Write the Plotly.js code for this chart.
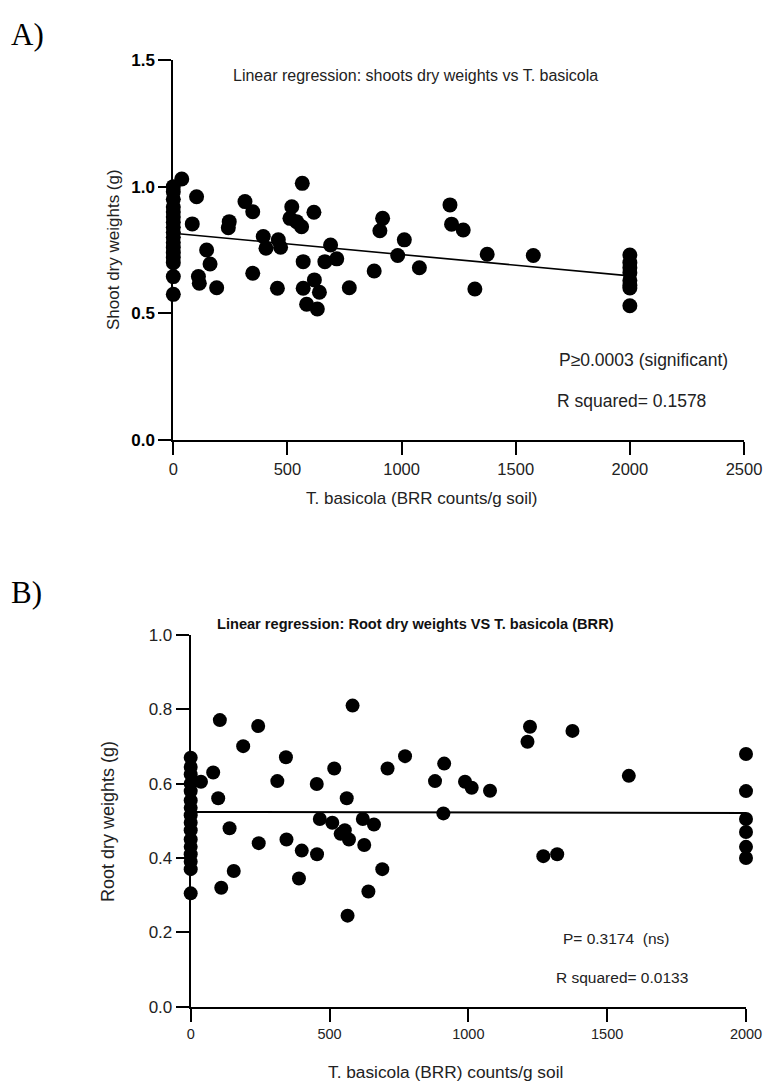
<!DOCTYPE html>
<html>
<head>
<meta charset="utf-8">
<script src="https://cdn.plot.ly/plotly-3.0.1.min.js"></script>
<style>html,body{margin:0;padding:0;background:#fff;}#chart{width:770px;height:1088px;}</style>
</head>
<body>
<div id="chart"></div>
<script>
// ---------- Panel A data: shoot dry weights vs T. basicola ----------
const shootX = [0,0,0,0,0,0,0,0,0,0,0,0,0,0,0,0,0,
  37,102,83,146,161,110,114,190,245,241,314,348,348,394,406,460,470,456,
  519,511,540,562,565,616,569,569,584,618,640,631,664,689,716,771,880,917,905,
  1012,983,1078,1212,1219,1270,1321,1375,1577,
  2000,2000,2000,2000,2000,2000,2000,2000];
const shootY = [1.00,0.98,0.95,0.92,0.90,0.88,0.86,0.84,0.82,0.80,0.78,0.76,0.74,0.72,0.70,0.645,0.575,
  1.03,0.96,0.853,0.75,0.695,0.645,0.619,0.601,0.862,0.838,0.941,0.901,0.658,0.803,0.757,0.79,0.761,0.599,
  0.921,0.875,0.862,0.842,1.013,0.899,0.704,0.599,0.536,0.632,0.583,0.517,0.704,0.77,0.715,0.601,0.667,0.875,0.826,
  0.79,0.728,0.68,0.928,0.852,0.829,0.596,0.733,0.728,
  0.73,0.70,0.68,0.66,0.63,0.61,0.60,0.53];
const fitAx = [0, 2000];
const fitAy = [0.816, 0.648];
const xTicksA = [0, 500, 1000, 1500, 2000, 2500];
const yTicksA = [0.0, 0.5, 1.0, 1.5];

// ---------- Panel B data: root dry weights vs T. basicola ----------
const rootX = [0,0,0,0,0,0,0,0,0,0,0,0,0,0,0,0,
  37,81,99,105,189,243,343,312,454,517,562,583,709,772,880,913,910,988,1012,1078,
  1213,1222,1375,1578,1270,1320,
  110,140,155,245,345,390,400,455,465,510,540,555,565,570,620,625,640,660,690,
  2000,2000,2000,2000,2000,2000];
const rootY = [0.67,0.645,0.625,0.60,0.58,0.555,0.535,0.515,0.495,0.475,0.45,0.43,0.41,0.39,0.37,0.305,
  0.605,0.63,0.561,0.771,0.701,0.755,0.671,0.607,0.599,0.641,0.561,0.81,0.641,0.674,0.607,0.654,0.52,0.605,0.589,0.581,
  0.713,0.753,0.742,0.621,0.405,0.41,
  0.32,0.48,0.365,0.44,0.45,0.345,0.42,0.41,0.505,0.495,0.465,0.475,0.245,0.45,0.505,0.435,0.31,0.49,0.37,
  0.68,0.58,0.505,0.47,0.43,0.40];
const fitBx = [0, 2000];
const fitBy = [0.524, 0.521];
const xTicksB = [0, 500, 1000, 1500, 2000];
const yTicksB = [0.0, 0.2, 0.4, 0.6, 0.8, 1.0];

// ---------- helpers ----------
const W = 770, H = 1088;
const px = v => v / W;
const py = v => 1 - v / H;
const SANS = 'Liberation Sans, Arial, sans-serif';
const SERIF = 'Liberation Serif, Times New Roman, serif';

const traces = [
  {x: shootX, y: shootY, type: 'scatter', mode: 'markers', xaxis: 'x', yaxis: 'y', cliponaxis: false,
   marker: {color: '#000', size: 15}, hoverinfo: 'x+y'},
  {x: fitAx, y: fitAy, type: 'scatter', mode: 'lines', xaxis: 'x', yaxis: 'y',
   line: {color: '#000', width: 1.6}, hoverinfo: 'skip'},
  {x: rootX, y: rootY, type: 'scatter', mode: 'markers', xaxis: 'x2', yaxis: 'y2', cliponaxis: false,
   marker: {color: '#000', size: 14}, hoverinfo: 'x+y'},
  {x: fitBx, y: fitBy, type: 'scatter', mode: 'lines', xaxis: 'x2', yaxis: 'y2',
   line: {color: '#000', width: 2}, hoverinfo: 'skip'}
];

const axisCommon = {
  showline: true, linecolor: '#000', linewidth: 2,
  ticks: 'outside', ticklen: 13, tickwidth: 2, tickcolor: '#000',
  showgrid: false, zeroline: false, fixedrange: true
};

function note(text, x, y, size, opts) {
  return Object.assign({text: text, x: px(x), y: py(y), xref: 'paper', yref: 'paper',
    xanchor: 'left', yanchor: 'middle', showarrow: false,
    font: {family: SANS, size: size, color: '#222'}}, opts || {});
}

const layout = {
  width: W, height: H,
  margin: {l: 0, r: 0, t: 0, b: 0},
  paper_bgcolor: '#fff', plot_bgcolor: '#fff',
  showlegend: false,
  font: {family: SANS, color: '#000'},
  xaxis: Object.assign({}, axisCommon, {
    domain: [px(173.3), px(744)], range: [0, 2500], anchor: 'y',
    tickmode: 'array', tickvals: xTicksA, ticktext: xTicksA.map(String),
    tickfont: {family: SANS, size: 16.5, color: '#222'}
  }),
  yaxis: Object.assign({}, axisCommon, {
    domain: [py(440), py(60)], range: [0, 1.5], anchor: 'x',
    tickmode: 'array', tickvals: yTicksA, ticktext: yTicksA.map(v => v.toFixed(1)),
    tickfont: {family: SANS, size: 17, color: '#000', weight: 'bold'}
  }),
  xaxis2: Object.assign({}, axisCommon, {
    domain: [px(190.7), px(746)], range: [0, 2000], anchor: 'y2',
    tickmode: 'array', tickvals: xTicksB, ticktext: xTicksB.map(String),
    tickfont: {family: SANS, size: 14.5, color: '#222'}
  }),
  yaxis2: Object.assign({}, axisCommon, {
    domain: [py(1006.7), py(635)], range: [0, 1.0], anchor: 'x2',
    tickmode: 'array', tickvals: yTicksB, ticktext: yTicksB.map(v => v.toFixed(1)),
    tickfont: {family: SANS, size: 17, color: '#222'}
  }),
  annotations: [
    note('A)', 9, 34, 31, {font: {family: SERIF, size: 31, color: '#000'}}),
    note('B)', 9, 592, 31, {font: {family: SERIF, size: 31, color: '#000'}}),
    // Panel A texts
    note('Linear regression: shoots dry weights vs T. basicola', 415, 75, 16, {xanchor: 'center'}),
    note('P≥0.0003 (significant)', 557, 360, 17.5),
    note('R squared= 0.1578', 555, 401, 17.5),
    note('Shoot dry weights (g)', 114, 250, 17, {xanchor: 'center', textangle: -90}),
    note('T. basicola (BRR counts/g soil)', 421, 498, 17, {xanchor: 'center'}),
    // Panel B texts
    note('<b>Linear regression: Root dry weights VS T. basicola (BRR)</b>', 416, 624, 14.6,
         {xanchor: 'center', font: {family: SANS, size: 14.6, color: '#111'}}),
    note('P= 0.3174  (ns)', 561, 938, 15.5),
    note('R squared= 0.0133', 554, 977, 15.5),
    note('Root dry weights (g)', 108, 822, 18, {xanchor: 'center', textangle: -90}),
    note('T. basicola (BRR) counts/g soil', 445, 1072, 17.3, {xanchor: 'center'})
  ]
};

Plotly.newPlot('chart', traces, layout, {staticPlot: true, displayModeBar: false});
</script>
</body>
</html>
